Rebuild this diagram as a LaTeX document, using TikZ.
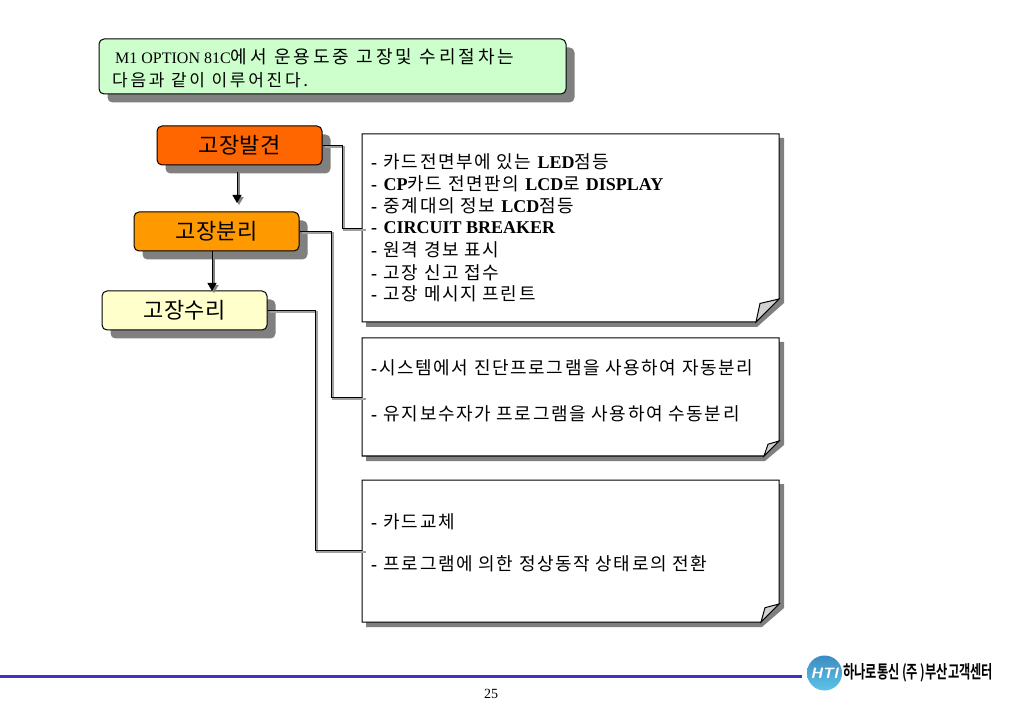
\documentclass[tikz,border=0pt]{standalone}
\usepackage{fontspec}
\setmainfont{Liberation Serif}
\newfontfamily\krf{Noto Sans CJK KR}[LetterSpace=9]
\newfontfamily\krw{Noto Sans CJK KR}[LetterSpace=16]
\newfontfamily\krt{Noto Sans CJK KR}[LetterSpace=17]
\newfontfamily\krl{Noto Sans CJK KR}[LetterSpace=2]
\newfontfamily\krb{Noto Sans CJK KR Bold}
\newcommand{\kr}[1]{{\krf #1}}
\newcommand{\dd}{\textbf{-}\ \kern2pt}
\usetikzlibrary{arrows.meta}
\definecolor{shad}{RGB}{128,128,128}
\definecolor{greenbox}{RGB}{204,255,204}
\definecolor{orangeA}{RGB}{255,102,0}
\definecolor{orangeB}{RGB}{255,153,0}
\definecolor{creamC}{RGB}{255,255,204}
\definecolor{footblue}{RGB}{64,48,200}
\definecolor{logoT}{RGB}{60,140,195}
\definecolor{logoB}{RGB}{95,195,230}
\tikzset{
  x=1pt,y=-1pt,
  shadowed/.style={rounded corners=5pt,draw=black,line width=1pt},
  stepbox/.style={shadowed,minimum width=165pt,minimum height=39pt,inner sep=0pt,
    font=\fontsize{22}{24}\selectfont\krl,
    preaction={draw=none,fill=shad,transform canvas={shift={(8.5pt,-8.5pt)}}}},
  noteline/.style={anchor=west,inner sep=0pt,font=\fontsize{18}{20}\selectfont},
  titleline/.style={anchor=west,inner sep=0pt,font=\fontsize{16}{20}\selectfont},
  link/.style={line width=1pt,draw=black},
  linkshadow/.style={line width=2pt,draw=shad!75},
  notebody/.style={draw=black,line width=1pt,fill=white},
  noteshadow/.style={fill=shad,draw=none},
  flap/.style={draw=black,line width=1pt,fill=black!18},
  tip/.style={-{Triangle[length=8pt,width=9pt]}},
}
\begin{document}
\begin{tikzpicture}
\useasboundingbox (0,0) rectangle (1023,708);
\fill[white] (0,0) rectangle (1023,708);

% top box
\node[shadowed,fill=greenbox,minimum width=467pt,minimum height=55pt,inner sep=0pt,
  preaction={draw=none,fill=shad,transform canvas={shift={(8.5pt,-8.5pt)}}}] (title) at (332.5,66.5) {};
\node[titleline] (t1) at (115,57) {M1 OPTION 81C{\fontsize{18}{20}\selectfont\krt 에서 운용도중 고장및 수리절차는}};
\node[titleline] (t2) at (112,80) {{\fontsize{17}{20}\selectfont\krw 다음과 같이 이루어진다.}};

% note shadows and bodies
\foreach \t/\b/\d in {134/322/23,338/456/15,480/622/18}{
  \fill[noteshadow] (366,\t+4) -- (784,\t+4) -- (784,\b-\d+4) -- (\numexpr 779-\d\relax+1,\b+5) -- (366,\b+5) -- cycle;
  \draw[notebody] (362,\t) -- (779,\t) -- (779,\b-\d) -- (779-\d,\b) -- (362,\b) -- cycle;
  \draw[flap] (779-\d,\b) -- (779-\d+4,\b-\d*0.85+1) -- (779,\b-\d) -- cycle;
}
\coordinate (n1) at (362,229);
\coordinate (n2) at (362,398);
\coordinate (n3) at (362,550);

% step boxes
\node[stepbox,fill=orangeA] (a) at (239.5,145.5) {\raisebox{-1pt}{고장발견}};
\node[stepbox,fill=orangeB] (b) at (216.5,231.5) {\raisebox{-1pt}{고장분리}};
\node[stepbox,fill=creamC] (c) at (184.5,310.5) {\raisebox{-1pt}{고장수리}};

% connectors
\draw[linkshadow] ([xshift=2pt,yshift=-1.5pt]a.east) -| (343.5,230.5) -- (366,230.5);
\draw[link] (a.east) -| (342,229) -- (n1);
\draw[linkshadow] ([xshift=2pt,yshift=-1.5pt]b.east) -| (332.5,399.5) -- (366,399.5);
\draw[link] (b.east) -| (331,398) -- (n2);
\draw[linkshadow] ([xshift=2pt,yshift=-1.5pt]c.east) -| (316.5,551.5) -- (366,551.5);
\draw[link] (c.east) -| (315,550) -- (n3);

% arrows
\coordinate (a1) at (237,172);
\coordinate (a1e) at (237,203);
\coordinate (b1) at (212,251);
\coordinate (b1e) at (212,291);
\draw[tip,line width=1.6pt,draw=shad,fill=shad] (239,172) -- (239,205);
\draw[tip,line width=1pt] (a1) -- (a1e);
\draw[tip,line width=1.6pt,draw=shad,fill=shad] (214,252) -- (214,293);
\draw[tip,line width=1pt] (b1) -- (b1e);

% note text
\node[noteline] (l1) at (371,162) {\dd\kr{카드전면부에 있는} \textbf{LED}\kr{점등}};
\node[noteline] (l2) at (371,184) {\dd\textbf{CP}\kr{카드 전면판의} \textbf{LCD}\kr{로} \textbf{DISPLAY}};
\node[noteline] (l3) at (371,206) {\dd\kr{중계대의 정보} \textbf{LCD}\kr{점등}};
\node[noteline] (l4) at (371,228) {\dd\textbf{CIRCUIT BREAKER}};
\node[noteline] (l5) at (371,250) {\dd\kr{원격 경보 표시}};
\node[noteline] (l6) at (371,273) {\dd\kr{고장 신고 접수}};
\node[noteline] (l7) at (371,294) {\dd\kr{고장 메시지 프린트}};
\node[noteline] (m1) at (371,368) {\textbf{-}\kern2pt\kr{시스템에서 진단프로그램을 사용하여 자동분리}};
\node[noteline] (m2) at (371,414) {\dd\kr{유지보수자가 프로그램을 사용하여 수동분리}};
\node[noteline] (p1) at (371,522) {\dd\kr{카드교체}};
\node[noteline] (p2) at (371,564) {\dd\kr{프로그램에 의한 정상동작 상태로의 전환}};

% footer
\fill[footblue] (0,674.5) rectangle (802,677.5);
\node[inner sep=0pt,font=\fontsize{14}{16}\selectfont] (pg) at (491,694) {25};
\shade[top color=logoT,bottom color=logoB,draw=none] (824.5,673) circle (17.5);
\node[inner sep=0pt,text=white,font=\fontsize{15}{15}\selectfont\sffamily\bfseries\itshape] (hti) at (824.5,673) {HTI};
\node[anchor=west,inner sep=0pt,font=\fontsize{13.5}{16}\selectfont\krb] (brand) at (843,673)
  {\resizebox{150pt}{15pt}{하나로통신 (주 )부산고객센터}};
\end{tikzpicture}
\end{document}
